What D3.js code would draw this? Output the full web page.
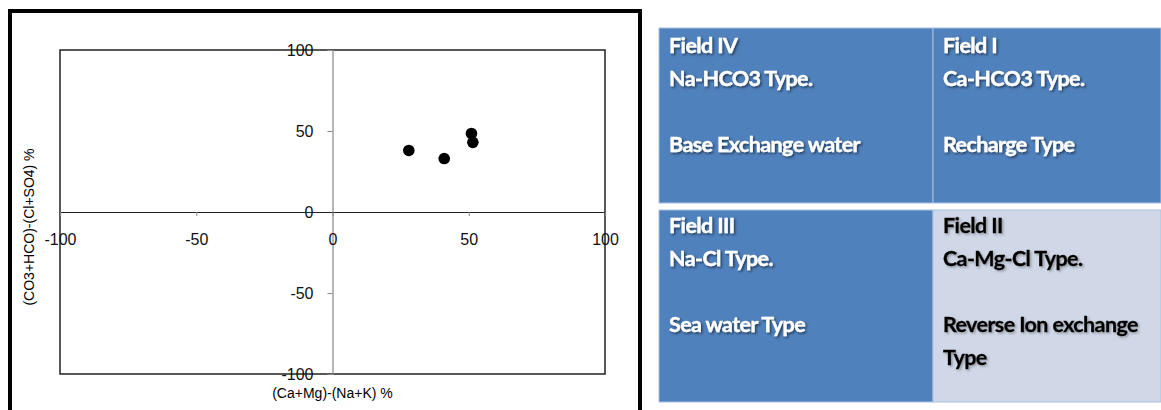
<!DOCTYPE html>
<html>
<head>
<meta charset="utf-8">
<script src="https://cdn.jsdelivr.net/npm/d3@7"></script>
<style>
  body { margin: 0; background: #fff; }
  svg { display: block; }
</style>
</head>
<body>
<div id="my_dataviz"></div>
<script>
// sample points: (Ca+Mg)-(Na+K) % and (CO3+HCO)-(Cl+SO4) %
var xValues = [28, 41, 51, 51.5];
var yValues = [38, 33, 48.5, 43];
var tickValues = [-100, -50, 0, 50, 100];

// field boxes on the right
var fieldNames = ["Field IV", "Field I", "Field III", "Field II"];
var fieldTypes = ["Na-HCO3 Type.", "Ca-HCO3 Type.", "Na-Cl Type.", "Ca-Mg-Cl Type."];
var fieldWaters = [["Base Exchange water"], ["Recharge Type"], ["Sea water Type"], ["Reverse Ion exchange", "Type"]];

var svg = d3.select("#my_dataviz")
  .append("svg")
    .attr("width", 1161)
    .attr("height", 410);

// shadows for the box text
var defs = svg.append("defs");
defs.append("filter").attr("id", "shadowDark")
    .attr("x", "-10%").attr("y", "-30%").attr("width", "130%").attr("height", "170%")
  .append("feDropShadow")
    .attr("dx", 1.5).attr("dy", 1.5).attr("stdDeviation", 1)
    .attr("flood-color", "#000").attr("flood-opacity", 0.55);
defs.append("filter").attr("id", "shadowLight")
    .attr("x", "-10%").attr("y", "-30%").attr("width", "130%").attr("height", "170%")
  .append("feDropShadow")
    .attr("dx", 1.5).attr("dy", 1.5).attr("stdDeviation", 1)
    .attr("flood-color", "#555").attr("flood-opacity", 0.5);

// ---- left: scatter chart ----
// thick outer frame
svg.append("rect")
  .attr("x", 10).attr("y", 11)
  .attr("width", 630).attr("height", 430)
  .attr("fill", "#fff")
  .attr("stroke", "#000")
  .attr("stroke-width", 4);

var x = d3.scaleLinear().domain([-100, 100]).range([60, 605]);
var y = d3.scaleLinear().domain([-100, 100]).range([374, 50]);

// plot border
svg.append("rect")
  .attr("x", x(-100)).attr("y", y(100))
  .attr("width", x(100) - x(-100)).attr("height", y(-100) - y(100))
  .attr("fill", "none")
  .attr("stroke", "#222")
  .attr("stroke-width", 1.5);

// plain hyphen for negative labels, as in the original
var fmt = function(d) { return String(d); };

// Y axis through x = 0
var yAxis = svg.append("g")
  .attr("transform", "translate(" + x(0) + ",0)")
  .call(d3.axisLeft(y).tickValues(tickValues).tickFormat(fmt).tickSize(5).tickPadding(14));
yAxis.select(".domain").attr("stroke", "#888").attr("stroke-width", 1.2);
yAxis.selectAll(".tick line").attr("stroke", "#888");
yAxis.selectAll("text")
  .style("font-family", "'Liberation Sans', Arial, sans-serif")
  .style("font-size", "16px")
  .attr("fill", "#111");

// X axis through y = 0
var xAxis = svg.append("g")
  .attr("transform", "translate(0," + y(0) + ")")
  .call(d3.axisBottom(x).tickValues(tickValues).tickFormat(fmt).tickSize(4).tickPadding(18));
xAxis.select(".domain").attr("stroke", "#222").attr("stroke-width", 1.2);
xAxis.selectAll(".tick line").attr("stroke", "#888");
xAxis.selectAll("text")
  .style("font-family", "'Liberation Sans', Arial, sans-serif")
  .style("font-size", "16px")
  .attr("fill", "#111");

// axis titles
svg.append("text")
  .attr("x", x(0))
  .attr("y", 398)
  .style("text-anchor", "middle")
  .style("font-family", "'Liberation Sans', Arial, sans-serif")
  .style("font-size", "14px")
  .text("(Ca+Mg)-(Na+K) %");
svg.append("text")
  .attr("transform", "translate(34,227) rotate(-90)")
  .style("text-anchor", "middle")
  .style("font-family", "'Liberation Sans', Arial, sans-serif")
  .style("font-size", "14px")
  .text("(CO3+HCO)-(Cl+SO4) %");

// points
svg.append("g")
  .selectAll("circle")
  .data(xValues)
  .enter()
  .append("circle")
    .attr("cx", function(d) { return x(d); })
    .attr("cy", function(d, i) { return y(yValues[i]); })
    .attr("r", 5.8)
    .attr("fill", "#000");

// ---- right: field boxes ----
var cells = [
  {x: 659, y: 28, w: 274, h: 175, top: 25, fill: "#4F81BD", color: "#fff", shadow: "shadowDark"},
  {x: 933, y: 28, w: 228, h: 175, top: 25, fill: "#4F81BD", color: "#fff", shadow: "shadowDark"},
  {x: 659, y: 210, w: 274, h: 192, top: 23, fill: "#4F81BD", color: "#fff", shadow: "shadowDark"},
  {x: 933, y: 210, w: 228, h: 192, top: 23, fill: "#D0D8E8", color: "#000", shadow: "shadowLight"}
];

var cell = svg.append("g")
  .selectAll("g")
  .data(cells)
  .enter()
  .append("g");

cell.append("rect")
  .attr("x", function(d) { return d.x; })
  .attr("y", function(d) { return d.y; })
  .attr("width", function(d) { return d.w; })
  .attr("height", function(d) { return d.h; })
  .attr("fill", function(d) { return d.fill; })
  .attr("stroke", "#A9C0DF")
  .attr("stroke-width", 1);

cell.each(function(d, i) {
  // blank third line between the type and the water description
  var lines = [fieldNames[i], fieldTypes[i], ""].concat(fieldWaters[i]);
  d3.select(this).selectAll("text")
    .data(lines)
    .enter()
    .append("text")
      .attr("x", d.x + 10)
      .attr("y", function(l, j) { return d.y + d.top + j * 33; })
      .attr("fill", d.color)
      .attr("stroke", d.color)
      .attr("stroke-width", 0.35)
      .attr("filter", "url(#" + d.shadow + ")")
      .style("font-family", "Lato, 'Open Sans', sans-serif")
      .style("font-weight", "bold")
      .style("font-size", "21.5px")
      .style("letter-spacing", "-0.6px")
      .text(function(l) { return l; });
});
</script>
</body>
</html>
